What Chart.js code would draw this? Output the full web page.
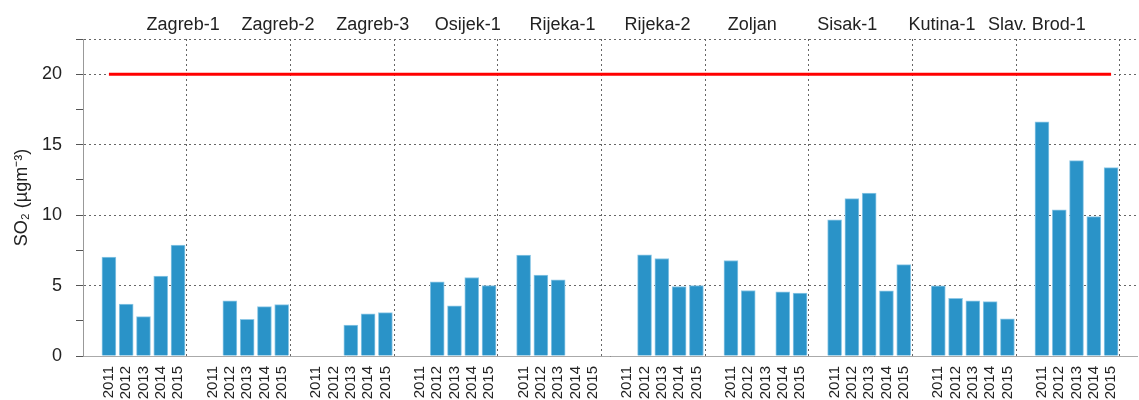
<!DOCTYPE html>
<html><head><meta charset="utf-8">
<script src="https://cdn.jsdelivr.net/npm/chart.js@4/dist/chart.umd.min.js"></script>
<style>html,body{margin:0;padding:0;background:#fff}#wrap{width:1139px;height:400px}</style>
</head><body><div id="wrap"><canvas id="c" width="1139" height="400"></canvas></div>
<script>
const stations = ['Zagreb-1','Zagreb-2','Zagreb-3','Osijek-1','Rijeka-1','Rijeka-2','Zoljan','Sisak-1','Kutina-1','Slav. Brod-1'];
const years = ['2011','2012','2013','2014','2015'];
const zagreb1   = [7.02, 3.68, 2.80, 5.67, 7.87];
const zagreb2   = [null, 3.91, 2.61, 3.51, 3.65];
const zagreb3   = [null, null, 2.20, 2.99, 3.08];
const osijek1   = [null, 5.26, 3.56, 5.57, 5.00];
const rijeka1   = [7.16, 5.74, 5.41, null, null];
const rijeka2   = [null, 7.18, 6.92, 4.93, 5.00];
const zoljan    = [6.78, 4.65, null, 4.55, 4.46];
const sisak1    = [9.67, 11.17, 11.57, 4.62, 6.49];
const kutina1   = [4.98, 4.10, 3.91, 3.86, 2.63];
const slavBrod1 = [16.62, 10.38, 13.87, 9.89, 13.37];
const limitValue = 20;
const yTicks = [0, 5, 10, 15, 20];

const seriesByStation = [zagreb1, zagreb2, zagreb3, osijek1, rijeka1, rijeka2, zoljan, sisak1, kutina1, slavBrod1];
const slots = years.length + 1;
const nSlots = stations.length * slots;

const barData = [];
seriesByStation.forEach((vals, s) => {
  vals.forEach((v, i) => { if (v !== null) barData.push({x: s * slots + i + 1, y: v}); });
});
const limitData = [{x: 1, y: limitValue}, {x: nSlots - 1, y: limitValue}];

const FONT = "'Liberation Sans', Arial, sans-serif";
const noPad = (scale) => { scale.paddingLeft = 0; scale.paddingRight = 0; scale.paddingTop = 0; scale.paddingBottom = 0; };

new Chart(document.getElementById('c'), {
  type: 'bar',
  data: {
    datasets: [
      {type: 'line', data: limitData, borderColor: '#ff0000', borderWidth: 3, pointRadius: 0, order: 0, xAxisID: 'x'},
      {type: 'bar', data: barData, backgroundColor: '#2a93c8', borderColor: '#8ec8e6', borderWidth: 1, barThickness: 14, order: 1, xAxisID: 'x'}
    ]
  },
  options: {
    responsive: false,
    animation: false,
    layout: {autoPadding: false, padding: {left: 0, right: 2, top: 0, bottom: 0}},
    plugins: {legend: {display: false}, tooltip: {enabled: false}},
    scales: {
      x: {
        type: 'linear', position: 'bottom', min: 0, max: nSlots,
        afterBuildTicks: (axis) => { const t = []; for (let i = 0; i <= nSlots; i++) t.push({value: i}); axis.ticks = t; },
        afterFit: (scale) => { scale.height = 44; noPad(scale); },
        ticks: {
          autoSkip: false, maxRotation: 90, minRotation: 90, padding: 10,
          color: '#222', font: {family: FONT, size: 15},
          callback: (v) => (v % slots === 0 ? '' : years[(v % slots) - 1])
        },
        grid: {
          drawTicks: false,
          color: (ctx) => (ctx.tick && ctx.tick.value % slots === 0 ? (ctx.tick.value === 0 ? '#333' : '#666') : 'transparent'),
          lineWidth: 1
        },
        border: {display: true, color: '#aaa', width: 1, dash: [2, 3]}
      },
      x2: {
        type: 'linear', position: 'top', min: 0, max: nSlots,
        afterBuildTicks: (axis) => { axis.ticks = stations.map((s, i) => ({value: i * slots + slots / 2})); },
        afterFit: (scale) => { scale.height = 39; noPad(scale); },
        ticks: {
          autoSkip: false, maxRotation: 0, minRotation: 0, padding: 3,
          color: '#222', font: {family: FONT, size: 18},
          callback: (v) => stations[Math.round((v - slots / 2) / slots)]
        },
        grid: {display: false, drawTicks: false},
        border: {display: false}
      },
      y: {
        min: 0, max: 22.5,
        afterBuildTicks: (axis) => { const t = []; for (let v = 0; v <= 22.5; v += 2.5) t.push({value: v}); axis.ticks = t; },
        afterFit: (scale) => { scale.width = 83; noPad(scale); },
        ticks: {
          padding: 14, color: '#222', font: {family: FONT, size: 18},
          callback: (v) => (yTicks.includes(v) ? String(v) : '')
        },
        grid: {
          drawTicks: true, tickLength: 7, tickColor: '#555',
          color: (ctx) => {
            if (!ctx.tick) return 'transparent';
            const v = ctx.tick.value;
            if (v === 0) return '#333';
            return (v % 5 === 0 || v === 22.5) ? '#666' : 'transparent';
          }
        },
        border: {display: true, color: '#999', width: 1, dash: [2, 3]},
        title: {display: true, text: 'SO₂ (µgm⁻³)', color: '#222', font: {family: FONT, size: 18}, padding: {top: 11, bottom: 0}}
      }
    }
  }
});
</script>
</body></html>
